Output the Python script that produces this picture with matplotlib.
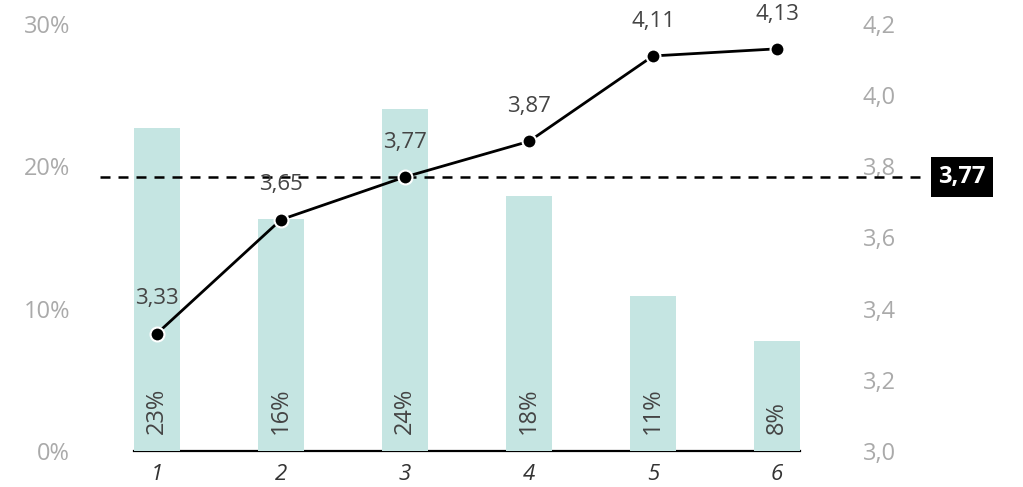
import matplotlib
matplotlib.use('Agg')
import matplotlib.pyplot as plt
from matplotlib.ticker import FuncFormatter

plt.rcParams['font.family'] = ['Open Sans', 'DejaVu Sans']

categories = ['1', '2', '3', '4', '5', '6']
shares = [0.227, 0.163, 0.240, 0.179, 0.109, 0.077]
share_labels = ['23%', '16%', '24%', '18%', '11%', '8%']
scores = [3.33, 3.65, 3.77, 3.87, 4.11, 4.13]
average = 3.77

fig = plt.figure(figsize=(10.23, 4.87), dpi=100)
ax = fig.add_axes([0.131, 0.0739, 0.651, 0.877])
x = list(range(len(categories)))

ax.bar(x, shares, width=0.37, color='#c5e5e2', zorder=3)
ax.set_xlim(-0.185, 5.185)
ax.set_ylim(0, 0.30)
ax.set_yticks([0, 0.1, 0.2, 0.3])
ax.yaxis.set_major_formatter(FuncFormatter(lambda v, p: f'{v*100:.0f}%'))
ax.set_xticks(x)
ax.set_xticklabels(categories, fontstyle='italic', color='#333333', fontsize=16)
ax.tick_params(axis='x', length=0, pad=9)
ax.tick_params(axis='y', length=0, pad=46, labelsize=17, labelcolor='#aaaaaa')
for s in ['top', 'left', 'right']:
    ax.spines[s].set_visible(False)
ax.spines['bottom'].set_linewidth(1.6)
ax.spines['bottom'].set_zorder(2)

for xi, lab in zip(x, share_labels):
    ax.annotate(lab, (xi, 0), xytext=(0, 12), textcoords='offset points',
                rotation=90, ha='center', va='bottom', fontsize=17,
                color='#444444', zorder=4)

ax2 = ax.twinx()
ax2.set_ylim(3.0, 4.2)
ax2.set_yticks([3.0, 3.2, 3.4, 3.6, 3.8, 4.0, 4.2])
ax2.yaxis.set_major_formatter(FuncFormatter(lambda v, p: f'{v:.1f}'.replace('.', ',')))
ax2.tick_params(axis='y', length=0, pad=45, labelsize=17, labelcolor='#aaaaaa')
for s in ax2.spines.values():
    s.set_visible(False)

ax2.plot([-0.051, 1.188], [average, average], transform=ax2.get_yaxis_transform(),
         color='black', lw=1.8, dashes=(4.0, 3.2), clip_on=False, zorder=2)
ax2.text(1.243, average, f'{average:.2f}'.replace('.', ','), transform=ax2.get_yaxis_transform(),
         ha='center', va='center', fontsize=17, fontweight='bold', color='white',
         bbox=dict(boxstyle='square,pad=0.32', fc='black', ec='none'))

ax2.plot(x, scores, color='black', lw=2.0, marker='o', markersize=10,
         markerfacecolor='black', markeredgecolor='white', markeredgewidth=1.5, zorder=5)
for xi, v in zip(x, scores):
    ax2.annotate(f'{v:.2f}'.replace('.', ','), (xi, v), xytext=(0, 25),
                 textcoords='offset points', ha='center', va='center',
                 fontsize=16, color='#444444', zorder=6)

fig.savefig('out.png', dpi=100)
